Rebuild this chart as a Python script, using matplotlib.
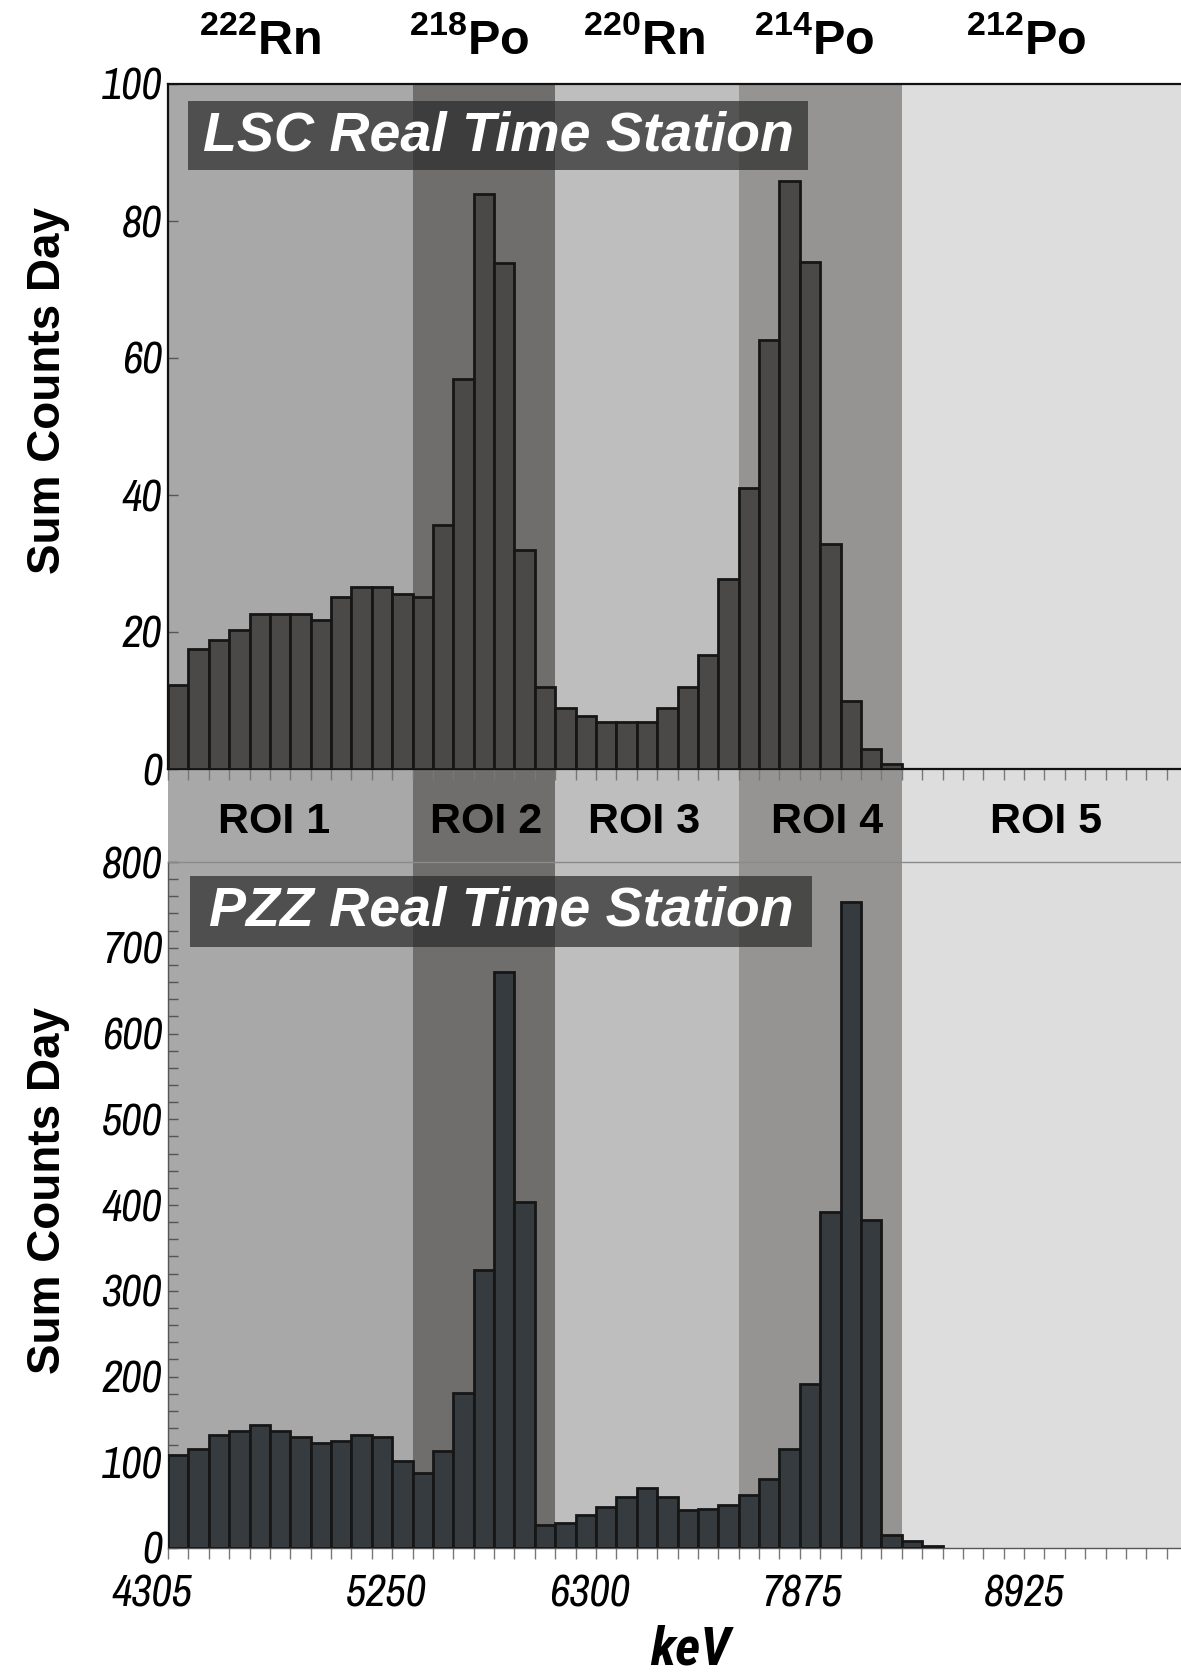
import numpy as np
import matplotlib.pyplot as plt
from matplotlib.patches import Rectangle

plt.rcParams['font.family'] = ['Liberation Sans', 'DejaVu Sans']
plt.rcParams['mathtext.fontset'] = 'custom'
plt.rcParams['mathtext.bf'] = 'Liberation Sans:bold'
plt.rcParams['mathtext.rm'] = 'Liberation Sans'
NARROW = ['Archivo Narrow', 'Roboto Condensed', 'Liberation Sans']
NARROW_BOLD = ['Roboto Condensed', 'Liberation Sans']

# counts per energy bin (one bin = one bar)
lsc_counts = [12.3, 17.5, 18.8, 20.3, 22.7, 22.7, 22.7, 21.7, 25.1, 26.6, 26.6, 25.6,
              25.1, 35.6, 57.0, 83.9, 73.8, 31.9, 11.9, 8.9, 7.7, 6.9, 6.9, 6.9,
              8.9, 11.9, 16.7, 27.8, 41.0, 62.7, 85.9, 74.0, 32.8, 9.9, 2.9, 0.8]
pzz_counts = [108.5, 116, 132, 136, 143, 136, 129, 122, 124.5, 132, 129, 101.5,
              87, 113, 181, 324, 672, 403.5, 26.7, 29, 39, 48, 60, 69.5,
              60, 44, 45.5, 50, 61.5, 80, 116, 191, 392, 753.6, 383, 15, 8, 2.7]

energy_labels = ['4305', '5250', '6300', '7875', '8925']
roi_names = ['ROI 1', 'ROI 2', 'ROI 3', 'ROI 4', 'ROI 5']
roi_bins = [0, 12, 19, 28, 36]
isotopes = [('222', 'Rn'), ('218', 'Po'), ('220', 'Rn'), ('214', 'Po'), ('212', 'Po')]

roi_colors = ['#a8a8a8', '#706e6c', '#bebebe', '#969492', '#dddddd']
XMAX = 49.7
energy_pos = [-0.8, 10.7, 20.7, 31.1, 42.0]
roi_label_pos = [5.2, 15.6, 23.35, 32.35, 43.1]
iso_pos = [4.5, 14.8, 23.35, 31.7, 42.1]

W, H = 1181, 1675
fig = plt.figure(figsize=(W / 100, H / 100), dpi=100)

def frac(left, top, right, bottom):
    return [left / W, 1 - bottom / H, (right - left) / W, (bottom - top) / H]

# background shading for the ROIs, shared by both panels and the band between
bg = fig.add_axes(frac(168, 84, W, 1548))
bg.set_xlim(0, XMAX)
bg.set_ylim(0, 1)
bg.axis('off')
edges = roi_bins + [XMAX]
for i in range(5):
    bg.axvspan(edges[i], edges[i + 1], color=roi_colors[i], lw=0)
band_y = (1548 - 822) / (1548 - 84)
for x, name in zip(roi_label_pos, roi_names):
    bg.text(x, band_y, name, ha='center', va='center', fontsize=31, fontweight='bold')

ax1 = fig.add_axes(frac(168, 84, W, 769))
ax2 = fig.add_axes(frac(168, 862, W, 1548))

def style(ax, counts, fill, ymax, major, minor, spine_col, spine_w):
    ax.set_facecolor('none')
    x = np.arange(len(counts))
    ax.bar(x, counts, width=1.0, align='edge', color=fill, edgecolor='#161616', linewidth=2.0, zorder=3)
    ax.set_yticks(np.arange(0, ymax + 1, major))
    ax.set_yticks(np.arange(0, ymax + 1, minor), minor=True)
    ax.set_xticks([])
    ax.set_xticks(np.arange(0, 50), minor=True)
    ax.set_xlim(0, XMAX)
    ax.set_ylim(0, ymax)
    ax.tick_params(axis='y', which='both', direction='in', length=7, width=1, color='#555555', pad=4)
    ax.tick_params(axis='x', which='minor', direction='out', length=8, width=1, color='#777777')
    for lab in ax.get_yticklabels():
        lab.set_family(NARROW)
        lab.set_style('italic')
        lab.set_fontsize(32)
    ax.spines['right'].set_visible(False)
    for s in ['left', 'bottom', 'top']:
        ax.spines[s].set_color(spine_col)
        ax.spines[s].set_linewidth(spine_w)

style(ax1, lsc_counts, '#4b4848', 100, 20, 20, '#111111', 1.6)
style(ax2, pzz_counts, '#363b40', 800, 100, 20, '#555555', 1.0)
ax2.spines['top'].set_color('#8a8a8a')

# energy labels under the lower panel
tr2 = ax2.get_xaxis_transform()
for x, lab in zip(energy_pos, energy_labels):
    ax2.text(x, -0.068, lab, transform=tr2, ha='center', va='center', family=NARROW,
             style='italic', fontsize=32, clip_on=False)

# station title boxes
ax1.add_patch(Rectangle((1.0, 87.4), 30.4, 10.1, color='#292929', alpha=0.7, lw=0, zorder=4))
ax1.text(16.2, 92.3, 'LSC Real Time Station', ha='center', va='center', color='white',
         fontsize=40, fontweight='bold', style='italic', zorder=5)
ax2.add_patch(Rectangle((1.1, 700.5), 30.5, 83.3, color='#292929', alpha=0.7, lw=0, zorder=4))
ax2.text(16.35, 742, 'PZZ Real Time Station', ha='center', va='center', color='white',
         fontsize=40, fontweight='bold', style='italic', zorder=5)

# isotope labels above the top panel
tr1 = ax1.get_xaxis_transform()
for x, (mass, el) in zip(iso_pos, isotopes):
    ax1.text(x, (769 - 41) / (769 - 84), r'$\mathbf{^{%s}%s}$' % (mass, el), transform=tr1,
             ha='center', va='center', fontsize=35, clip_on=False)

fig.text(48 / W, 1 - 390 / H, 'Sum Counts Day', rotation=90, ha='center', va='center',
         fontsize=33, fontweight='bold')
fig.text(48 / W, 1 - 1191 / H, 'Sum Counts Day', rotation=90, ha='center', va='center',
         fontsize=33, fontweight='bold')
fig.text(690 / W, 1 - 1650 / H, 'keV', ha='center', va='center', fontsize=39,
         fontweight='bold', style='italic', family=NARROW_BOLD)

fig.savefig('out.png', dpi=100, facecolor='white')
